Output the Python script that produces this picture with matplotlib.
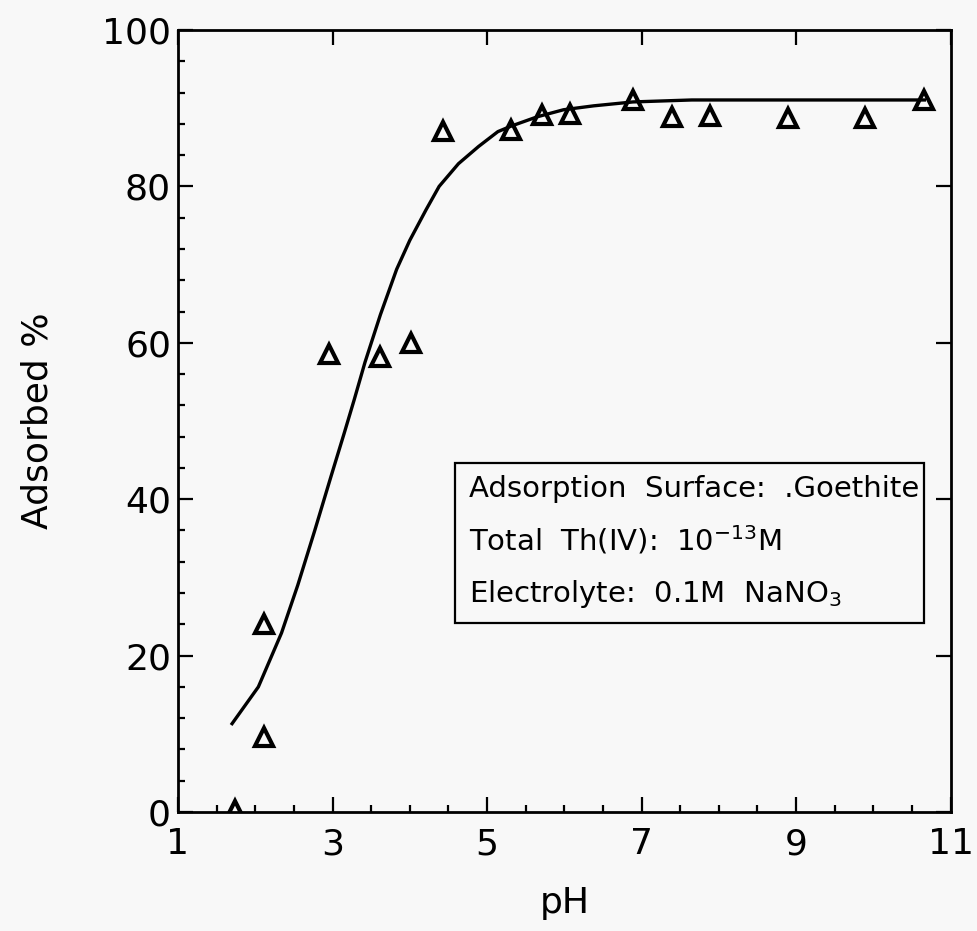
import matplotlib
matplotlib.use("Agg")
import matplotlib.pyplot as plt
from matplotlib.patches import Rectangle
from matplotlib.ticker import MultipleLocator, FixedLocator

# measured points (pH, % adsorbed)
ph_pts = [1.74, 2.11, 2.11, 2.96, 3.61, 4.02, 4.43, 5.31, 5.71, 6.08,
          6.89, 7.39, 7.88, 8.89, 9.89, 10.66]
ads_pts = [0.3, 24.0, 9.6, 58.6, 58.2, 60.0, 87.1, 87.2, 89.1, 89.2,
           91.0, 88.9, 89.0, 88.8, 88.7, 91.0]

# model curve
ph_fit = [1.70, 2.04, 2.34, 2.55, 2.77, 2.98, 3.15, 3.28, 3.42, 3.62,
          3.83, 4.00, 4.21, 4.38, 4.63, 4.89, 5.14, 5.31, 5.65, 5.99,
          6.38, 6.89, 7.65, 8.50, 9.50, 10.66]
ads_fit = [11.3, 16.0, 22.9, 29.0, 36.0, 42.9, 48.4, 52.7, 57.5, 63.6,
           69.4, 73.1, 77.0, 80.0, 82.9, 85.1, 87.0, 87.7, 88.9, 89.8,
           90.3, 90.8, 91.05, 91.05, 91.05, 91.05]

x_ticks = [1, 3, 5, 7, 9, 11]

box_lines = [
    "Adsorption  Surface:  .Goethite",
    r"Total  Th(IV):  $\mathregular{10^{-13}}$M",
    r"Electrolyte:  0.1M  NaNO$_\mathregular{3}$",
]

bg = "#f8f8f8"
fig = plt.figure(figsize=(9.78, 9.31), dpi=100, facecolor=bg)
ax = fig.add_axes([0.182, 0.1278, 0.790, 0.840], facecolor=bg)

ax.plot(ph_fit, ads_fit, color="black", lw=2.4)
ax.plot(ph_pts, ads_pts, ls="none", marker="^", ms=13, mfc="none",
        mec="black", mew=3.0)

ax.set_xlim(1, 11)
ax.set_ylim(0, 100)
ax.xaxis.set_major_locator(FixedLocator(x_ticks))
ax.xaxis.set_minor_locator(MultipleLocator(0.5))
ax.yaxis.set_major_locator(MultipleLocator(20))
ax.yaxis.set_minor_locator(MultipleLocator(4))

for s in ax.spines.values():
    s.set_linewidth(2.0)

ax.tick_params(which="both", direction="in", width=1.6, labelsize=26)
ax.tick_params(which="major", length=11)
ax.tick_params(which="minor", length=5, top=False, right=False)
ax.tick_params(axis="x", which="major", top=True, pad=11)
ax.tick_params(axis="y", which="major", right=True, pad=5)

ax.set_xlabel("pH", fontsize=26, labelpad=18)
ax.set_ylabel("Adsorbed %", fontsize=26, labelpad=34)

ax.add_patch(Rectangle((0.358, 0.2417), 0.6075, 0.2046, transform=ax.transAxes,
                       fill=False, lw=1.6, ec="black"))
for yy, txt in zip([0.403, 0.335, 0.2685], box_lines):
    ax.text(0.376, yy, txt, transform=ax.transAxes, fontsize=21,
            va="baseline", ha="left")

fig.savefig("out.png", dpi=100, facecolor=bg)
